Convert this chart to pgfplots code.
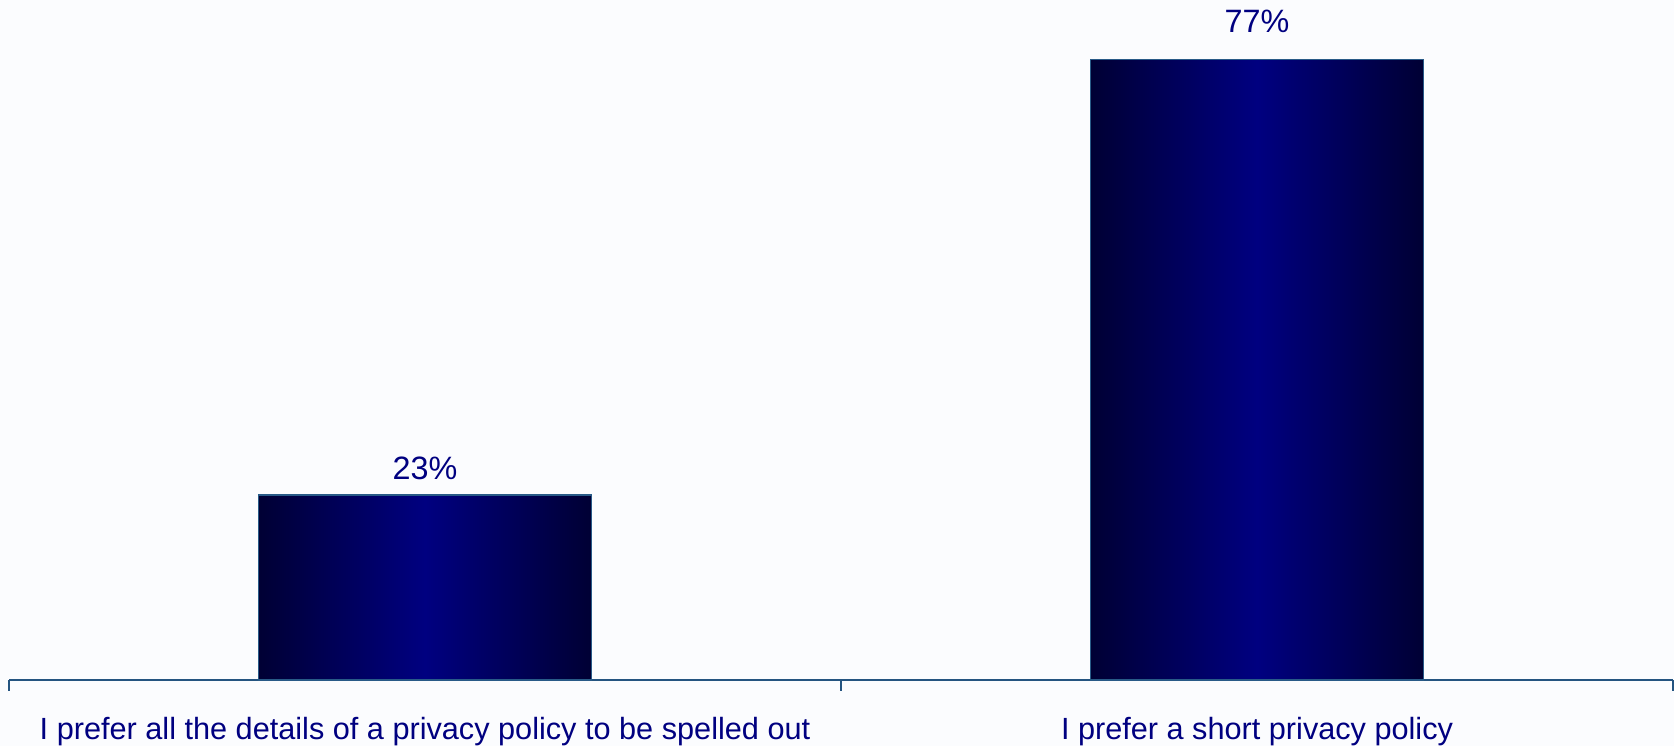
\documentclass[border=0pt]{standalone}
\usepackage{pgfplots}
\pgfplotsset{compat=1.18}
\usepackage{fontspec}
\setmainfont{Liberation Sans}
\definecolor{txt}{RGB}{0,0,128}
\definecolor{axcol}{RGB}{36,84,128}
\definecolor{barborder}{RGB}{40,90,135}
\definecolor{edge}{RGB}{0,0,52}
\definecolor{mid}{RGB}{0,0,128}
\definecolor{bgcol}{RGB}{251,252,254}
\begin{document}
\begin{tikzpicture}[x=1pt,y=1pt]
\fill[bgcol] (-2.7,-19.8) rectangle (499.5,204);
\begin{axis}[
  at={(0,0)}, anchor=south west,
  scale only axis, width=499.2pt, height=204pt,
  xmin=-0.5, xmax=1.5, ymin=0, ymax=84.4,
  /pgf/number format/assume math mode=true,
  axis x line=bottom, axis y line=none,
  axis line style={-, draw=axcol, line width=0.6pt},
  xtick={0,1},
  xticklabels={I prefer all the details of a privacy policy to be spelled out, I prefer a short privacy policy},
  major tick length=0pt,
  minor xtick={-0.5,0.5,1.5}, minor tick length=3.3pt, xtick align=outside,
  xtick style={draw=axcol, line width=0.6pt},
  xticklabel style={font=\fontsize{9.2}{11}\selectfont, text=txt, anchor=north, inner sep=0pt, yshift=-11.1pt},
  nodes near coords={\pgfmathprintnumber{\pgfplotspointmeta}\%},
  every node near coord/.append style={font=\fontsize{9.7}{11}\selectfont, text=txt, anchor=base, inner sep=0pt},
  clip=false,
]
\addplot[ybar, bar width=0.4, draw=barborder, line width=0.5pt, left color=edge, right color=edge, middle color=mid,
  every node near coord/.append style={yshift=4.7pt}]
  coordinates {(0,23)};
\addplot[ybar, bar width=0.4, draw=barborder, line width=0.5pt, left color=edge, right color=edge, middle color=mid,
  every node near coord/.append style={yshift=8.2pt}]
  coordinates {(1,77)};
\end{axis}
\pgfresetboundingbox
\path[use as bounding box] (-2.7,-19.8) rectangle (499.5,204);
\end{tikzpicture}
\end{document}
